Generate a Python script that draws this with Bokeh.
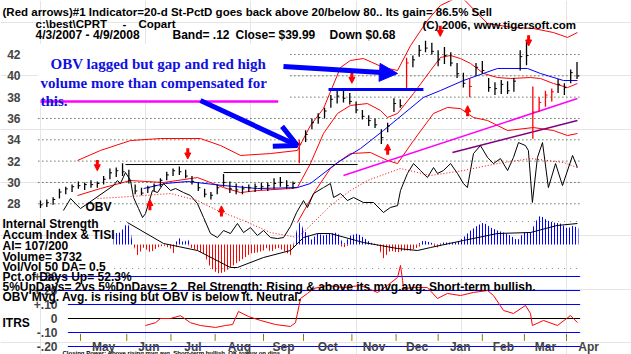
import numpy as np
from bokeh.plotting import figure
from bokeh.models import (Range1d, Label, Arrow, OpenHead, NormalHead,
                          BoxAnnotation, ColumnDataSource)
from bokeh.embed import file_html
from bokeh.resources import INLINE

W, H = 631, 354

# ---------------- data (x = trading-day index since 4/3/2007) ----------------
bar_day = list(range(0, 256, 3))
price_high = [28.3, 28.4, 28.6, 29.4, 29.6, 29.8, 30.1, 30.0, 30.2, 30.1,
              30.6, 31.3, 31.4, 31.8, 31.2, 29.8, 29.5, 29.7, 29.9, 30.4,
              31.0, 31.3, 31.5, 31.2, 30.6, 30.0, 29.4, 29.1, 29.8, 30.8,
              30.1, 29.9, 29.7, 29.8, 29.9, 30.0, 30.0, 30.4, 30.5, 30.2,
              30.1, 34.0, 34.9, 36.0, 36.5, 37.0, 38.2, 38.6, 38.6, 38.4,
              37.6, 36.8, 36.3, 36.0, 35.0, 35.6, 37.9, 37.8, 41.7, 41.9,
              42.9, 43.3, 43.1, 42.4, 42.7, 42.2, 41.2, 40.3, 39.8, 41.2,
              41.4, 39.8, 39.4, 39.6, 39.5, 39.8, 42.4, 43.2, 39.0, 38.0,
              38.6, 38.8, 39.7, 39.3, 40.6, 41.3]
price_low = [27.6, 27.7, 27.9, 28.5, 28.9, 29.1, 29.4, 29.3, 29.5, 29.5,
             29.8, 30.3, 30.5, 30.6, 29.9, 28.9, 28.8, 29.0, 29.2, 29.6,
             30.2, 30.6, 30.7, 30.4, 29.8, 29.2, 28.6, 28.4, 28.9, 29.6,
             29.0, 28.9, 28.9, 29.1, 29.1, 29.3, 29.2, 29.4, 29.6, 29.4,
             29.4, 31.8, 33.8, 35.0, 35.5, 36.0, 37.0, 37.4, 37.5, 37.3,
             36.5, 35.9, 35.3, 35.1, 33.6, 34.7, 36.6, 37.0, 38.8, 40.8,
             41.8, 42.2, 42.0, 40.9, 41.1, 40.9, 39.8, 38.9, 38.0, 40.0,
             40.2, 38.5, 38.2, 38.3, 38.3, 38.5, 40.5, 41.0, 34.1, 36.6,
             37.1, 37.6, 38.4, 38.2, 39.3, 39.7]
price_close = [27.9, 28.1, 28.4, 29.1, 29.4, 29.6, 29.7, 29.8, 29.8, 29.9,
               30.3, 30.9, 31.1, 31.0, 30.2, 29.2, 29.0, 29.5, 29.7, 30.2,
               30.7, 31.1, 31.0, 30.6, 30.1, 29.5, 28.9, 28.8, 29.5, 30.0,
               29.4, 29.3, 29.4, 29.5, 29.6, 29.6, 29.7, 29.9, 30.0, 29.7,
               29.9, 33.6, 34.5, 35.6, 36.1, 36.7, 37.8, 38.1, 37.9, 37.6,
               36.8, 36.2, 35.8, 35.4, 34.2, 35.3, 37.4, 37.2, 41.2, 41.5,
               42.4, 42.6, 42.3, 41.5, 41.9, 41.2, 40.2, 39.3, 39.0, 40.8,
               40.5, 38.9, 38.8, 39.2, 38.6, 39.5, 41.8, 41.9, 36.6, 37.5,
               38.2, 38.5, 39.2, 38.9, 40.3, 39.99]
red_bar_days = [123, 174, 204, 234, 237, 240, 243]

upper_day = [17.6, 28.5, 42.8, 57.0, 76.0, 85.6, 95.1, 109.3, 122.1, 128.3, 134.5,
             142.6, 147.3, 153.5, 163.0, 169.7, 175.9, 183.9, 190.1, 199.6, 212.5,
             224.8, 234.3, 243.8, 250.5, 255.2]
upper_band = [32.06, 33.0, 33.93, 34.12, 34.12, 33.46, 32.53, 32.71, 33.0, 35.34, 36.93,
              40.78, 41.44, 41.62, 40.78, 40.5, 42.84, 45.19, 46.6, 47.5, 44.9,
              44.53, 44.44, 44.06, 43.6, 44.06]
ma_day = [17.6, 28.5, 42.8, 58.5, 74.6, 87.0, 95.1, 103.1, 118.8, 122.1, 128.3, 134.5,
          141.2, 147.3, 155.4, 161.6, 164.9, 169.7, 177.3, 185.4, 190.1, 194.9, 199.6,
          204.4, 210.6, 217.2, 223.4, 232.9, 237.6, 243.8, 250.5, 255.2]
ma21 = [28.77, 29.43, 30.18, 29.99, 30.46, 29.52, 29.05, 29.24, 29.43, 29.52, 31.77, 34.59,
        36.47, 37.22, 37.40, 36.75, 36.09, 36.47, 38.34, 40.5, 41.72, 41.91, 41.62,
        41.16, 40.22, 39.84, 39.75, 39.84, 39.75, 39.28, 38.9, 39.28]
lower_day = [122.1, 130.7, 137.8, 142.6, 147.3, 156.8, 164.9, 169.7, 177.3, 186.8,
             193.4, 199.6, 205.8, 212.5, 222.0, 234.3, 243.8, 250.5, 255.2]
lower_band = [26.24, 29.24, 31.31, 32.06, 32.71, 32.81, 32.06, 31.77, 33.93, 36.47,
              37.03, 36.93, 36.09, 35.81, 34.87, 35.15, 34.87, 34.40, 34.59]
ma50_day = [49.0, 59.4, 69.9, 87.0, 103.1, 122.1, 128.3, 141.2, 152.1, 163.0, 182.0,
            190.1, 201.0, 217.2, 231.5, 237.6, 248.6, 255.2]
ma50 = [29.43, 29.9, 30.09, 29.71, 29.43, 29.52, 29.9, 31.87, 33.18, 34.87, 37.97,
        38.62, 39.56, 40.69, 40.69, 40.22, 39.56, 39.56]
obv_day = [10.9, 14.3, 16.6, 19.0, 34.7, 36.6, 38.0, 40.4, 42.8, 44.2, 46.6, 48.5, 49.9,
           53.2, 55.6, 58.5, 61.8, 64.2, 68.0, 71.3, 74.6, 77.5, 80.8, 84.1, 87.0, 90.3,
           93.6, 96.5, 99.8, 103.1, 106.0, 109.3, 112.6, 115.5, 118.8, 121.7, 125.0,
           126.9, 129.8, 134.5, 137.8, 139.3, 142.6, 145.9, 148.8, 153.5, 158.3, 163.0,
           166.3, 169.7, 171.1, 174.4, 177.3, 180.6, 183.9, 186.8, 188.7, 191.5, 194.9,
           198.2, 201.0, 202.9, 205.8, 209.1, 212.5, 215.3, 218.6, 222.0, 224.8, 227.2,
           230.5, 231.9, 233.8, 236.2, 238.6, 241.4, 244.8, 248.1, 252.9, 255.2]
obv = [27.37, 28.49, 28.02, 27.55, 29.71, 30.18, 29.9, 30.93, 30.18, 28.59, 27.55, 26.71,
       27.08, 29.24, 29.05, 29.9, 29.24, 29.43, 29.05, 28.77, 28.02, 26.71, 25.21, 24.83,
       25.49, 25.21, 26.15, 25.30, 25.77, 25.02, 25.49, 24.83, 24.74, 24.83, 25.86, 27.18,
       28.30, 27.65, 28.96, 29.52, 29.90, 28.59, 28.96, 28.30, 28.59, 28.12, 28.12, 27.18,
       27.65, 27.83, 29.24, 30.84, 31.77, 31.12, 30.46, 31.40, 30.84, 31.12, 31.77, 30.84,
       29.90, 29.52, 32.71, 33.46, 32.34, 31.77, 32.24, 31.12, 32.34, 33.74, 33.46, 32.99,
       28.12, 32.34, 33.74, 29.52, 31.77, 29.71, 32.53, 31.40]
obv_ma_day = [27.1, 42.8, 61.8, 74.6, 84.1, 96.5, 109.3, 122.1, 129.8, 137.8, 147.3,
              155.4, 171.1, 185.4, 201.0, 217.2, 232.9, 248.6, 255.2]
obv_ma = [28.49, 28.68, 28.96, 28.30, 27.37, 26.43, 25.30, 24.83, 26.24, 27.83, 29.24,
          30.18, 31.31, 30.65, 31.12, 31.77, 32.24, 31.87, 31.40]
resist_day0 = [40.4, 87.0]
resist_day1 = [150.7, 123.6]
resist_level = [31.68, 30.93]
trend_day = [144.0, 255.2]
trend_magenta = [30.65, 37.87]
trend2_day = [195.8, 255.2]
trend_purple = [32.81, 35.81]
sell_day = [27, 70, 148, 190, 232]
sell_price = [31.1, 32.2, 39.3, 43.7, 42.8]
buy_day = [52, 86, 165, 203]
buy_price = [28.4, 27.8, 33.6, 37.2]

ai_day = [34.7, 38.0, 41.3, 42.8, 43.7, 44.2, 46.1, 49.0, 52.3, 55.6, 58.5, 61.8, 63.2, 65.1,
          66.5, 68.0, 69.9, 71.3, 74.6, 77.5, 80.8, 84.1, 87.0, 90.3, 93.6, 96.5, 99.8,
          103.1, 106.0, 107.9, 109.3, 112.6, 115.5, 118.8, 120.2, 122.1, 123.6, 125.0,
          126.9, 128.3, 131.7, 134.5, 137.8, 141.2, 144.0, 147.3, 150.7, 153.5, 156.8,
          160.2, 163.0, 166.3, 169.7, 172.5, 175.9, 179.2, 182.0, 185.4, 188.7, 191.5,
          194.9, 198.2, 201.0, 204.4, 207.7, 210.6, 213.9, 217.2, 220.1, 223.4, 226.7,
          229.6, 232.9, 236.2, 237.6, 241.0, 243.8, 247.1, 250.5, 253.3, 255.7]
ai_val = [0.11, 0.12, 0.22, 0.14, 0.01, -0.01, -0.11, -0.03, -0.08, -0.03, -0.01, -0.04,
          -0.09, 0.04, 0.07, 0.01, 0.06, -0.03, -0.06, -0.09, -0.23, -0.29, -0.28, -0.23,
          -0.18, -0.14, -0.09, -0.08, -0.06, -0.03, -0.08, -0.03, -0.06, -0.11, -0.03,
          0.17, 0.24, 0.14, 0.11, 0.04, 0.11, 0.09, 0.11, 0.12, -0.03, 0.09, 0.11, 0.07,
          0.02, -0.01, -0.14, -0.06, -0.08, -0.06, -0.06, -0.03, 0.04, 0.02, -0.03, 0.02,
          0.02, 0.02, 0.07, 0.14, 0.19, 0.22, 0.17, 0.14, 0.12, 0.09, 0.04, 0.12, 0.12,
          0.26, 0.29, 0.24, 0.22, 0.21, 0.16, 0.19, 0.16]
ai_ma_day = [41.3, 58.5, 74.6, 90.3, 93.6, 106.0, 118.8, 125.0, 131.7, 137.8, 153.5,
             169.7, 179.2, 185.4, 201.0, 217.2, 232.9, 245.5, 255.2]
ai_ma = [0.22, 0.01, -0.06, -0.23, -0.23, -0.13, -0.06, 0.07, 0.11, 0.11, 0.02, -0.04,
         -0.06, -0.03, 0.04, 0.11, 0.12, 0.19, 0.21]

itrs_day = [49.9, 54.7, 57.0, 61.8, 66.5, 71.3, 76.0, 83.2, 87.9, 91.3, 94.1, 98.9, 104.6,
            111.7, 118.8, 121.2, 123.6, 126.9, 129.8, 136.4, 144.0, 152.1, 160.2, 164.9,
            169.7, 171.1, 172.1, 172.5, 177.3, 183.9, 188.7, 193.4, 199.6, 205.8, 212.5,
            215.3, 220.1, 224.8, 230.5, 232.9, 233.8, 239.1, 245.7, 251.9, 255.2]
itrs_val = [-0.05, -0.03, 0.0, 0.0, 0.02, -0.03, -0.05, -0.064, -0.05, -0.043, 0.05, 0.014,
            -0.014, -0.043, -0.057, -0.03, 0.143, 0.179, 0.214, 0.236, 0.221, 0.236, 0.186,
            0.236, 0.293, 0.379, 0.271, 0.214, 0.221, 0.221, 0.143, 0.179, 0.164, 0.186,
            0.2, 0.164, 0.057, 0.036, 0.093, 0.036, -0.05, -0.014, -0.05, 0.021, -0.029]

price_ticks = [42, 40, 38, 36, 34, 32, 30, 28]
itrs_ticks = [0.3, 0.2, 0.1, 0.0, -0.1, -0.2]
itrs_tick_labels = ["+.30", "+.20", "+.10", "0", "-.10", "-.20"]
month_names = ["May", "Jun", "Jul", "Aug", "Sep", "Oct", "Nov", "Dec", "Jan", "Feb", "Mar", "Apr"]
month_start = [19, 41, 62, 83, 106, 125, 148, 169, 189, 210, 230, 250, 271]

# ---------------- figure ----------------
p = figure(width=W, height=H, x_range=Range1d(-19.01, 280.9), y_range=Range1d(13.863, 47.065),
           output_backend="svg", toolbar_location=None, title=None,
           x_axis_location=None, y_axis_location=None, min_border=0)
p.outline_line_color = None
p.background_fill_color = "white"
p.border_fill_color = "white"
p.extra_y_ranges = {"ai": Range1d(-1.10, 2.44), "itrs": Range1d(-0.2571, 2.2714)}

X0, X1 = -1.0, 256.5

# price grid (dotted)
p.segment(x0=[X0] * len(price_ticks), x1=[X1] * len(price_ticks), y0=price_ticks, y1=price_ticks,
          line_color="#1a3a1a", line_dash="1 3", line_width=1)
# AI panel guide lines
p.segment(x0=[35, 35], x1=[X1, X1], y0=[0.23, -0.24], y1=[0.23, -0.24], y_range_name="ai",
          line_color="#888888", line_dash="1 5", line_width=1)

# bands & averages
p.line(upper_day, upper_band, line_color="red", line_width=1)
p.line(ma_day, ma21, line_color="red", line_width=1)
p.line(lower_day, lower_band, line_color="red", line_width=1)
p.line(ma50_day, ma50, line_color="#0000FF", line_width=1)
p.line(trend_day, trend_magenta, line_color="#FF00FF", line_width=1.5)
p.line(trend2_day, trend_purple, line_color="#800080", line_width=1.5)
p.segment(x0=resist_day0, x1=resist_day1, y0=resist_level, y1=resist_level,
          line_color="black", line_width=1)
p.line(obv_day, obv, line_color="black", line_width=1)
p.line(obv_ma_day, obv_ma, line_color="red", line_dash="1 2", line_width=1)

# price bars
bd = np.array(bar_day, dtype=float)
cols = ["red" if d in red_bar_days else "black" for d in bar_day]
src = ColumnDataSource(dict(x=bd, xr=bd + 1.0, lo=price_low, hi=price_high,
                            c=price_close, col=cols))
p.segment(x0="x", x1="x", y0="lo", y1="hi", line_color="col", line_width=1.3, source=src)
p.segment(x0="x", x1="xr", y0="c", y1="c", line_color="col", line_width=1, source=src)

# annotation white panel
p.add_layout(BoxAnnotation(left=-1.2, right=118.5, top=43.0, bottom=37.75,
                           fill_color="white", fill_alpha=1.0, line_color=None))

# horizontal guide lines drawn by the author
p.line([0, 113], [37.59, 37.59], line_color="#FF00FF", line_width=2.5)
p.line([136.9, 182.0], [38.72, 38.72], line_color="#0000FF", line_width=3)

# accumulation index (hatched histogram look)
ai = np.array(ai_val)
p.varea(x=ai_day, y1=np.zeros_like(ai), y2=np.maximum(ai, 0), y_range_name="ai",
        fill_alpha=0, hatch_pattern="|", hatch_color="#0000FF", hatch_weight=1, hatch_scale=3)
p.varea(x=ai_day, y1=np.minimum(ai, 0), y2=np.zeros_like(ai), y_range_name="ai",
        fill_alpha=0, hatch_pattern="|", hatch_color="#FF0000", hatch_weight=1, hatch_scale=3)
p.line(ai_ma_day, ai_ma, y_range_name="ai", line_color="black", line_width=1)

# ITRS panel
blue_lv = [v for v in itrs_ticks if v != 0]
blue_start = [-1 if v >= 0.2 else 13 for v in blue_lv]
p.segment(x0=blue_start, x1=[X1] * len(blue_lv), y0=blue_lv, y1=blue_lv, y_range_name="itrs",
          line_color="#0000FF", line_width=1)
p.segment(x0=[13], x1=[X1], y0=[0], y1=[0], y_range_name="itrs", line_color="black", line_width=1)
p.line(itrs_day, itrs_val, y_range_name="itrs", line_color="red", line_width=1)

# month ticks
ms = month_start[:-1]
p.segment(x0=ms, x1=ms, y0=[-0.16] * len(ms), y1=[-0.11] * len(ms), y_range_name="itrs",
          line_color="#808000", line_width=1)

# buy / sell arrows
sell_src = ColumnDataSource(dict(x=sell_day, y0=[v + 1.0 for v in sell_price], y1=sell_price))
buy_src = ColumnDataSource(dict(x=buy_day, y0=[v - 1.0 for v in buy_price], y1=buy_price))
for s in (sell_src, buy_src):
    p.add_layout(Arrow(x_start="x", y_start="y0", x_end="x", y_end="y1", source=s,
                       line_color="red", line_width=3,
                       end=NormalHead(size=6, fill_color="red", line_color="red", line_width=1)))

# big blue arrows
p.add_layout(Arrow(x_start=76.0, y_start=37.68, x_end=122.1, y_end=33.46,
                   line_color="#0000FF", line_width=5,
                   end=OpenHead(size=22, line_color="#0000FF", line_width=5)))
p.add_layout(Arrow(x_start=115.5, y_start=40.87, x_end=169.7, y_end=40.22,
                   line_color="#0000FF", line_width=5,
                   end=NormalHead(size=18, fill_color="#0000FF", line_color="#0000FF")))

FONT = "Liberation Sans"


def txt(px, py, s, size=12, color="black", font=FONT, style="bold", align="left"):
    p.add_layout(Label(x=px, y=H - py, x_units="screen", y_units="screen", text=s,
                       text_font=font, text_font_size=f"{size}px", text_font_style=style,
                       text_color=color, text_align=align, text_baseline="alphabetic"))


# bottom status line (cut off in the original; drawn small so it stays on the page)
txt(62, 352, "Closing Power: Above rising mvg.avg.   Short-term bullish.   OK to buy on dips.", size=6)

# price tick labels
for v in price_ticks:
    p.add_layout(Label(x=20, y=v, x_units="screen", y_units="data", text=str(v),
                       text_font=FONT, text_font_size="12px", text_font_style="bold",
                       text_align="right", text_baseline="middle"))
# ITRS tick labels
for v, s in zip(itrs_ticks, itrs_tick_labels):
    p.add_layout(Label(x=57, y=v, x_units="screen", y_units="data", y_range_name="itrs", text=s,
                       text_font=FONT, text_font_size="12px", text_font_style="bold",
                       text_align="right", text_baseline="middle"))
# month labels
for a, b, s in zip(month_start[:-1], month_start[1:], month_names):
    p.add_layout(Label(x=(a + b) / 2, y=H - 346, x_units="data", y_units="screen", text=s,
                       text_font=FONT, text_font_size="12px", text_font_style="bold",
                       text_align="center", text_baseline="alphabetic"))

# header
txt(2, 11, "(Red arrows)#1 Indicator=20-d St-PctD goes back above 20/below 80.. Its gain= 86.5% Sell",
    size=11.5)
txt(35, 23, "c:\\best\\CPRT", size=11.5)
txt(122, 23, "-", size=11.5)
txt(138, 23, "Copart", size=11.5)
txt(422, 24, "(C) 2006, www.tigersoft.com", size=11.5)
txt(35, 34, "4/3/2007 - 4/9/2008")
txt(172, 34, "Band= .12")
txt(235, 34, "Close= $39.99")
txt(329, 34, "Down $0.68")

# author's note
SERIF = "Liberation Serif"
txt(50, 63, "OBV lagged but gap and red high", size=15, color="#1010E0", font=SERIF)
txt(40, 82, "volume more than compensated for", size=15, color="#1010E0", font=SERIF)
txt(40, 100, "this.", size=15, color="#1010E0", font=SERIF)

txt(85, 206, "OBV")

# lower text block
txt(2, 223, "Internal Strength")
txt(2, 234, "Accum Index & TISI")
txt(2, 245, "AI= 107/200")
txt(2, 256, "Volume= 3732")
txt(2, 266, "Vol/Vol 50 DA= 0.5")
txt(2, 276, "Pct.of Days Up= 52.3%")
txt(2, 286, "5%UpDays= 2vs 5%DnDays= 2")
txt(187, 286, "Rel Strength: Rising & above its mvg.avg. Short-term bullish.")
txt(2, 296, "OBV Mvg. Avg. is rising but OBV is below it. Neutral.")
txt(2, 322, "ITRS")

open("out.html", "w").write(file_html(p, INLINE))
